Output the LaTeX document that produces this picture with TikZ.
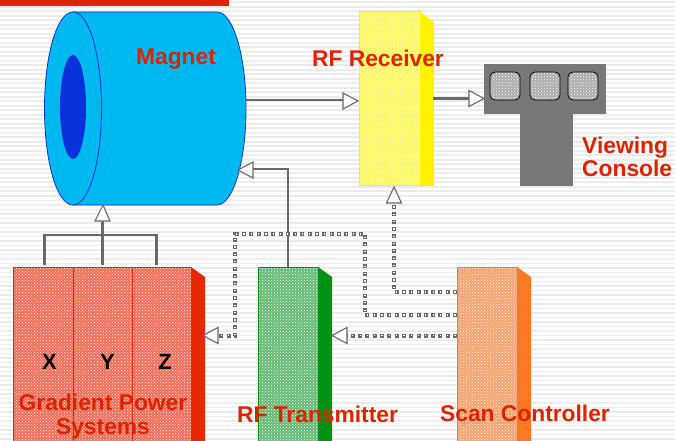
\documentclass[tikz,border=0pt]{standalone}
\usepackage{fontspec}
\setmainfont{Liberation Sans}
\usetikzlibrary{patterns,arrows.meta,positioning}
\definecolor{redtxt}{RGB}{222,35,0}
\definecolor{stripe}{RGB}{236,236,236}
\definecolor{cyanm}{RGB}{0,184,240}
\definecolor{blueedge}{RGB}{10,50,220}
\definecolor{lineg}{RGB}{105,105,105}
\definecolor{consoleg}{RGB}{120,120,120}
\definecolor{fred}{RGB}{245,105,85}
\definecolor{fyel}{RGB}{255,248,90}
\definecolor{fgrn}{RGB}{100,185,115}
\definecolor{forg}{RGB}{250,160,105}
\definecolor{sred}{RGB}{232,40,0}
\definecolor{syel}{RGB}{255,243,0}
\definecolor{sgrn}{RGB}{0,146,20}
\definecolor{sorg}{RGB}{252,120,35}
\tikzset{
  x=1pt,y=-1pt,
  lbl/.style={font=\fontsize{22.8}{24}\selectfont\bfseries,text=redtxt,inner sep=0pt,align=center},
  lblb/.style={lbl,font=\fontsize{22.8}{23}\selectfont\bfseries},
  letter/.style={font=\fontsize{22}{22}\selectfont\bfseries,text=black,inner sep=0pt},
  solidline/.style={draw=lineg,line width=2.4pt},
  dotline/.style={draw=lineg,line width=4pt,dash pattern=on 4pt off 3.3pt},
  dotcore/.style={draw=white,line width=1.2pt,dash pattern=on 1.2pt off 6.1pt,dash phase=5.9pt},
  tip/.style={draw=lineg,fill=white,line width=1.1pt},
}
\newcommand{\slab}[6]{%
  \fill[#6] (#1+#3,#2) -- (#1+#3+14,#2+10) -- (#1+#3+14,#4) -- (#1+#3,#4) -- cycle;
  \fill[#5] (#1,#2) rectangle (#1+#3,#4);
  \fill[pattern=crosshatch dots,pattern color=white] (#1,#2) rectangle (#1+#3,#4);
  \draw[#6,line width=1pt] (#1,#2) rectangle (#1+#3,#4);
}
\begin{document}
\begin{tikzpicture}
\useasboundingbox (0,0) rectangle (675,441);
\fill[white] (0,0) rectangle (675,441);
\foreach \yy in {1.5,6,...,441}{\fill[stripe] (0,\yy) rectangle (675,\yy+1.8);}
\fill[redtxt] (0,0) rectangle (229,6);
% magnet
\draw[fill=cyanm,draw=blueedge,line width=.8pt] (73,12) -- (217,12) .. controls (233,12) and (246,55) .. (246,108.5) .. controls (246,162) and (233,205) .. (217,205) -- (73,205) -- cycle;
\coordinate (magR) at (246,100);
\coordinate (magRb) at (238,170);
\coordinate (magB) at (103,205);
\draw[fill=cyanm,draw=blueedge,line width=.8pt] (73,12) .. controls (57,12) and (44.5,55) .. (44.5,108.5) .. controls (44.5,162) and (57,205) .. (73,205) .. controls (89,205) and (101.5,162) .. (101.5,108.5) .. controls (101.5,55) and (89,12) .. (73,12) -- cycle;
\fill[blueedge] (73,55) .. controls (80,55) and (86,78) .. (86,107) .. controls (86,136) and (80,159) .. (73,159) .. controls (66,159) and (60,136) .. (60,107) .. controls (60,78) and (66,55) .. (73,55) -- cycle;
% receiver
\slab{359}{12}{61}{186}{fyel}{syel}
\coordinate (recL) at (358,101);
\coordinate (recR) at (433,98.5);
\coordinate (recB) at (394,187);
% console
\fill[consoleg] (484,64) rectangle (606,114);
\fill[consoleg] (520,114) rectangle (573,186);
\foreach \xx in {490,530,568}{
  \draw[rounded corners=5pt,fill=gray!65,draw=black,line width=.8pt] (\xx,72) rectangle (\xx+30,100);
  \fill[pattern=crosshatch dots,pattern color=white,rounded corners=5pt] (\xx+1,73) rectangle (\xx+29,99);
}
\coordinate (conL) at (484,98.5);
% gradient
\slab{13}{267}{178}{441}{fred}{sred}
\draw[sred,line width=.8pt] (73.5,267) -- (73.5,441);
\draw[sred,line width=.8pt] (132.5,267) -- (132.5,441);
\coordinate (gradR) at (203,335.5);
% transmitter
\slab{258}{267}{60}{441}{fgrn}{sgrn}
\coordinate (txT) at (288,267);
% scan
\slab{457}{267}{60}{441}{forg}{sorg}
\coordinate (scA) at (457,292);
\coordinate (scB) at (457,315);
\coordinate (scC) at (457,335.5);
\coordinate (txR) at (332,335.5);
% bus
\coordinate (busL) at (44.5,265);
\coordinate (busM) at (102.5,265);
\coordinate (busR) at (156.5,265);
\coordinate (busLt) at (44.5,235);
\coordinate (busRt) at (156.5,235);
\draw[solidline] (busL) -- (busLt) -- (busRt) -- (busR);
\draw[solidline] (busM) -- (102.5,220);
\draw[tip] (magB) -- (95,221) -- (110,221) -- cycle;
% magnet to receiver
\draw[solidline] (magR) -- (344,100);
\draw[tip] (recL) -- ++(-15,-8) -- ++(0,16) -- cycle;
% receiver to console
\draw[solidline] (recR) -- (470,98.5);
\draw[tip] (conL) -- ++(-15,-8) -- ++(0,16) -- cycle;
% tx to magnet
\draw[solidline] (txT) -- (288,169) -- (252,169);
\draw[tip] (magRb) -- ++(15,-8) -- ++(0,16) -- cycle;
% dotted
\foreach \s in {dotline,dotcore}{
  \draw[\s] (scA) -- (394,292) -- (394,203);
  \draw[\s] (scB) -- (365,315) -- (365,234) -- (235,234) -- (235,335.5) -- (218,335.5);
  \draw[\s] (scC) -- (347,335.5);
}
\draw[tip] (recB) -- ++(-7.5,16) -- ++(15,0) -- cycle;
\draw[tip] (gradR) -- ++(15,-8) -- ++(0,16) -- cycle;
\draw[tip] (txR) -- ++(15,-8) -- ++(0,16) -- cycle;
% labels
\node[lbl] (lm) at (176,59.5) {Magnet};
\node[lbl] (lr) at (378,58) {RF Receiver};
\node[lblb,align=left,anchor=west] (lv) at (582,157) {Viewing\\Console};
\node[lbl] (lg) at (103,417) {Gradient Power\\Systems};
\node[lbl] (lt) at (317.5,414) {RF Transmitter};
\node[lbl] (ls) at (525,413.5) {Scan Controller};
\node[letter] (lx) at (49.5,362) {X};
\node[letter] (ly) at (107.5,362) {Y};
\node[letter] (lz) at (165,362) {Z};
\end{tikzpicture}
\end{document}
